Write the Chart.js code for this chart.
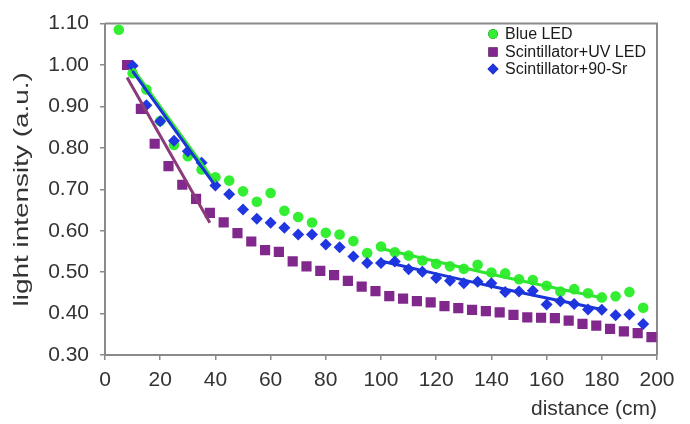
<!DOCTYPE html>
<html><head><meta charset="utf-8">
<script src="https://cdn.jsdelivr.net/npm/chart.js@4/dist/chart.umd.min.js"></script>
<style>html,body{margin:0;padding:0;background:#fff}#wrap{position:relative;width:690px;height:424px}</style>
</head><body><div id="wrap"><canvas id="c" width="690" height="424"></canvas></div>
<script>
// ---- data ----
const seriesNames = ['Blue LED', 'Scintillator+UV LED', 'Scintillator+90-Sr'];
const blueLedX = [5,10,15,20,25,30,35,40,45,50,55,60,65,70,75,80,85,90,95,100,105,110,115,120,125,130,135,140,145,150,155,160,165,170,175,180,185,190,195];
const blueLedY = [1.085,0.98,0.941,0.865,0.807,0.78,0.748,0.729,0.721,0.695,0.670,0.691,0.648,0.633,0.620,0.595,0.591,0.575,0.546,0.562,0.548,0.540,0.528,0.520,0.514,0.508,0.518,0.499,0.497,0.483,0.481,0.467,0.453,0.459,0.449,0.439,0.442,0.452,0.414];
const uvX = [8,13,18,23,28,33,38,43,48,53,58,63,68,73,78,83,88,93,98,103,108,113,118,123,128,133,138,143,148,153,158,163,168,173,178,183,188,193,198];
const uvY = [1.00,0.894,0.810,0.756,0.711,0.677,0.643,0.620,0.594,0.574,0.553,0.549,0.526,0.514,0.503,0.493,0.479,0.465,0.454,0.442,0.436,0.430,0.427,0.418,0.413,0.409,0.406,0.403,0.397,0.391,0.390,0.389,0.383,0.375,0.371,0.363,0.357,0.353,0.343];
const srX = [10,15,20,25,30,35,40,45,50,55,60,65,70,75,80,85,90,95,100,105,110,115,120,125,130,135,140,145,150,155,160,165,170,175,180,185,190,195];
const srY = [0.998,0.903,0.864,0.817,0.792,0.764,0.709,0.688,0.651,0.629,0.619,0.607,0.591,0.591,0.567,0.560,0.538,0.522,0.522,0.526,0.507,0.501,0.486,0.479,0.473,0.477,0.473,0.452,0.453,0.455,0.422,0.430,0.423,0.410,0.409,0.396,0.398,0.375];
// trend lines
const blueLedFitAX = [10,40], blueLedFitAY = [0.992,0.716];
const blueLedFitBX = [100,140,180], blueLedFitBY = [0.557,0.495,0.438];
const uvFitX = [8,38], uvFitY = [0.970,0.619];
const srFitAX = [10,40], srFitAY = [0.985,0.708];
const srFitBX = [100,140,180], srFitBY = [0.527,0.466,0.410];
// ticks
const xTickValues = [0,20,40,60,80,100,120,140,160,180,200];
const yTickValues = [0.3,0.4,0.5,0.6,0.7,0.8,0.9,1.0,1.1];
const yTickLabels = ['0.30','0.40','0.50','0.60','0.70','0.80','0.90','1.00','1.10'];
const xTitle = 'distance (cm)';
const yTitle = 'light intensity (a.u.)';

// ---- styles ----
const cGreen = '#33EE33', cGreenLine = '#2EE62E';
const cPurple = '#80288C', cPurpleLine = '#8B3A7B';
const cBlue = '#1F36E0', cBlueLine = '#1A35D8';
const axisGray = '#8a8a8a';
const textColor = '#333';
const FONT = "'Liberation Sans', Arial, sans-serif";

const pts = (xs, ys) => xs.map((x, i) => ({x, y: ys[i]}));
function lineDs(xs, ys, color, order) {
  return {type:'line', data: pts(xs, ys), borderColor: color, borderWidth: 3, pointRadius: 0,
          fill: false, tension: 0.4, order: order, showLine: true};
}

const datasets = [
  lineDs(srFitAX, srFitAY, cBlueLine, 0),
  lineDs(srFitBX, srFitBY, cBlueLine, 0),
  lineDs(blueLedFitAX, blueLedFitAY, cGreenLine, 1),
  lineDs(blueLedFitBX, blueLedFitBY, cGreenLine, 1),
  lineDs(uvFitX, uvFitY, cPurpleLine, 1),
  {label: seriesNames[2], data: pts(srX, srY), pointStyle: 'rectRot', pointRadius: 6,
   backgroundColor: cBlue, borderColor: cBlue, borderWidth: 0, order: 2},
  {label: seriesNames[0], data: pts(blueLedX, blueLedY), pointStyle: 'circle', pointRadius: 5.3,
   backgroundColor: cGreen, borderColor: cGreen, borderWidth: 0, order: 3},
  {label: seriesNames[1], data: pts(uvX, uvY), pointStyle: 'rect', pointRadius: 7.2,
   backgroundColor: cPurple, borderColor: cPurple, borderWidth: 0, order: 4}
];

const legendItems = [
  {text: seriesNames[0], style: 'circle', r: 4.8, color: cGreen},
  {text: seriesNames[1], style: 'rect', r: 6.5, color: cPurple},
  {text: seriesNames[2], style: 'rectRot', r: 5.5, color: cBlue}
];

const framePlugin = {
  id: 'frame',
  beforeDatasetsDraw(chart) {
    const {ctx, chartArea: a} = chart;
    ctx.save();
    ctx.strokeStyle = axisGray; ctx.lineWidth = 2;
    ctx.beginPath();
    ctx.moveTo(a.left, a.top); ctx.lineTo(a.right, a.top); ctx.lineTo(a.right, a.bottom);
    ctx.stroke();
    ctx.restore();
  },
  afterDraw(chart) {
    const ctx = chart.ctx;
    const a = chart.chartArea;
    // y axis title (stretched along its length, as in the reference)
    ctx.save();
    ctx.translate(22, (a.top + a.bottom) / 2);
    ctx.rotate(-Math.PI / 2);
    ctx.scale(1.33, 1);
    ctx.font = '21px ' + FONT;
    ctx.fillStyle = textColor;
    ctx.textAlign = 'center';
    ctx.textBaseline = 'middle';
    ctx.fillText(yTitle, 0, 0);
    ctx.restore();
    // legend
    ctx.save();
    ctx.font = '16px ' + FONT;
    ctx.textBaseline = 'middle';
    ctx.textAlign = 'left';
    const ys = [34, 52, 69];
    legendItems.forEach((it, i) => {
      Chart.helpers.drawPoint(ctx, {pointStyle: it.style, radius: it.r, borderWidth: 0}, 493, ys[i]);
      ctx.fillStyle = it.color; ctx.fill();
      ctx.fillStyle = '#1a1a1a';
      ctx.fillText(it.text, 505, ys[i] + 1);
    });
    ctx.restore();
  }
};

new Chart(document.getElementById('c'), {
  type: 'scatter',
  data: {datasets},
  options: {
    responsive: false, animation: false, devicePixelRatio: 1,
    layout: {padding: {left: 0, right: 33, top: 16, bottom: 0}},
    plugins: {legend: {display: false}, tooltip: {enabled: false}},
    scales: {
      x: {
        type: 'linear', min: 0, max: 200,
        afterFit: s => { s.height = 69; },
        afterBuildTicks: s => { s.ticks = xTickValues.map(v => ({value: v})); },
        grid: {drawOnChartArea: false, drawTicks: true, tickLength: 5, color: axisGray, lineWidth: 1.5},
        border: {display: true, color: axisGray, width: 2},
        ticks: {color: textColor, font: {family: FONT, size: 21}, padding: 8, maxRotation: 0, autoSkip: false},
        title: {display: true, text: xTitle, align: 'end', color: textColor,
                font: {family: FONT, size: 21}, padding: {top: 0, bottom: 2}}
      },
      y: {
        type: 'linear', min: 0.3, max: 1.1,
        afterFit: s => { s.width = 105; },
        afterBuildTicks: s => { s.ticks = yTickValues.map(v => ({value: v})); },
        grid: {drawOnChartArea: false, drawTicks: true, tickLength: 5, color: axisGray, lineWidth: 1.5},
        border: {display: true, color: axisGray, width: 2},
        ticks: {color: textColor, font: {family: FONT, size: 21}, padding: 11, autoSkip: false,
                callback: (v, i) => yTickLabels[i]},
        title: {display: false}
      }
    }
  },
  plugins: [framePlugin]
});
</script></body></html>
